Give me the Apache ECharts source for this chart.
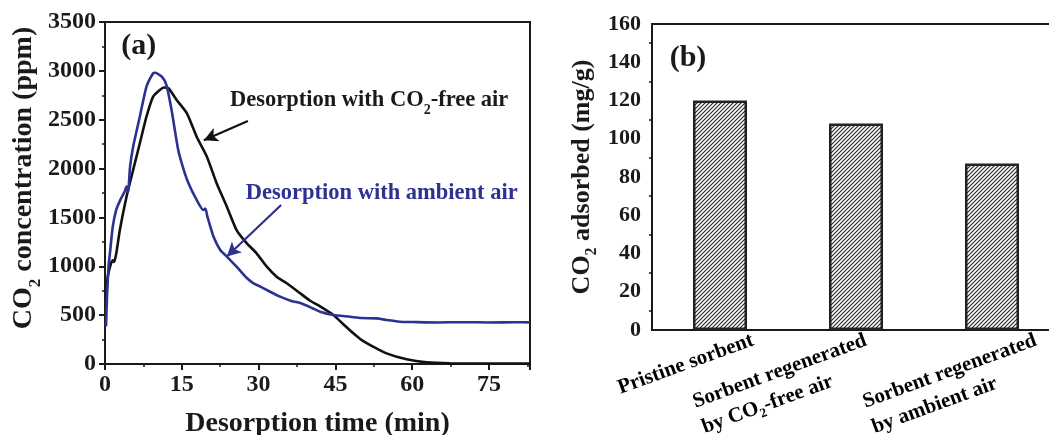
<!DOCTYPE html>
<html>
<head>
<meta charset="utf-8">
<title>CO2 desorption and adsorption capacity</title>
<script src="https://cdn.jsdelivr.net/npm/echarts@6/dist/echarts.min.js"></script>
<style>
  html, body { margin: 0; padding: 0; background: #fff; }
  #chart { width: 1049px; height: 435px; }
</style>
</head>
<body>
<div id="chart"></div>
<script>
// (a) CO2 outlet concentration during desorption
const timeFree = [0.2, 0.5, 1.0, 1.5, 1.8, 2.2, 2.9, 4.2, 5.5, 6.8, 8.1, 9.4, 10.7, 11.5, 12.4, 14.0, 16.0, 17.9, 19.9, 21.8, 23.8, 25.7, 27.7, 29.6, 31.6, 33.5, 35.5, 38.1, 40.0, 42.0, 44.6, 46.5, 48.5, 50.0, 51.8, 55.0, 58.9, 62.8, 67.4, 75.0, 83.0];
const ppmFree  = [650, 880, 1000, 1060, 1045, 1130, 1371, 1712, 1986, 2259, 2531, 2736, 2804, 2830, 2822, 2702, 2566, 2326, 2122, 1850, 1610, 1371, 1235, 1133, 996, 894, 826, 724, 650, 590, 502, 410, 314, 250, 194, 109, 48, 17, 7, 5, 5];

const timeAmbient = [0.2, 0.4, 0.7, 1.0, 1.5, 2.2, 3.0, 3.8, 4.2, 4.5, 4.9, 5.5, 6.8, 8.1, 9.4, 9.8, 11.1, 12.0, 13.0, 14.3, 15.3, 16.3, 17.9, 19.2, 19.6, 20.0, 21.2, 22.5, 23.6, 25.7, 27.7, 29.0, 30.3, 31.6, 34.2, 36.4, 38.4, 40.5, 42.0, 44.6, 47.9, 50.0, 53.1, 55.0, 57.6, 60.0, 65.0, 70.0, 75.0, 80.0, 83.0];
const ppmAmbient  = [383, 700, 1000, 1150, 1400, 1580, 1680, 1760, 1815, 1760, 2019, 2224, 2531, 2838, 2975, 2981, 2940, 2855, 2600, 2190, 2000, 1850, 1679, 1576, 1590, 1508, 1303, 1167, 1110, 996, 880, 826, 793, 757, 689, 645, 620, 571, 535, 502, 484, 470, 467, 450, 433, 430, 425, 428, 425, 427, 426];

// (b) CO2 uptake of the sorbent
const sorbents = ['Pristine sorbent', 'Sorbent regenerated by CO2-free air', 'Sorbent regenerated by ambient air'];
const sorbentLabels = [
  '{t|Pristine sorbent}',
  '{t|Sorbent regenerated}\n{t|by CO}{s|2}{t|-free air}',
  '{t|Sorbent regenerated}\n{t|by ambient air}'
];
const adsorbed = [120, 108, 87];

const FONT = '"Liberation Serif", "Times New Roman", serif';
const INK = '#1a1a1a';
const BLUE = '#2d3192';

const zip = (xs, ys) => xs.map((x, i) => [x, ys[i]]);

// diagonal hatch fill for the bars
function hatch() {
  const c = document.createElement('canvas');
  c.width = 4; c.height = 4;
  const g = c.getContext('2d');
  g.fillStyle = '#fff';
  g.fillRect(0, 0, 4, 4);
  g.strokeStyle = '#2a2a2a';
  g.lineWidth = 1.2;
  g.beginPath();
  g.moveTo(0, 4); g.lineTo(4, 0);
  g.moveTo(-1, 1); g.lineTo(1, -1);
  g.moveTo(3, 5); g.lineTo(5, 3);
  g.stroke();
  return c;
}

const subRich = (size) => ({
  t: { fontFamily: FONT, fontWeight: 'bold', fontSize: size, color: INK, verticalAlign: 'bottom', padding: [0, 0, Math.round(size * 0.2), 0] },
  s: { fontFamily: FONT, fontWeight: 'bold', fontSize: Math.round(size * 0.62), color: INK, verticalAlign: 'bottom' }
});

const axisLineStyle = { lineStyle: { color: INK, width: 2 } };
const tickLabel = (size, margin) => ({
  color: INK, fontFamily: FONT, fontWeight: 'bold', fontSize: size, margin,
  formatter: v => String(v)
});

const option = {
  animation: false,
  backgroundColor: '#fff',
  grid: [
    { left: 105, top: 22, width: 425, height: 342, outerBoundsMode: 'none', containLabel: false,
      show: true, borderColor: INK, borderWidth: 2, backgroundColor: 'transparent' },
    { left: 652, top: 24, width: 408, height: 306, outerBoundsMode: 'none', containLabel: false,
      show: true, borderColor: INK, borderWidth: 2, backgroundColor: 'transparent' }
  ],
  xAxis: [
    {
      type: 'value', gridIndex: 0, min: 0, max: 83, interval: 15,
      name: 'Desorption time (min)', nameLocation: 'middle', nameGap: 46,
      nameTextStyle: { color: INK, fontFamily: FONT, fontWeight: 'bold', fontSize: 28 },
      axisLine: axisLineStyle,
      axisTick: { length: 6, lineStyle: { color: INK, width: 2 } },
      minorTick: { show: true, splitNumber: 2, length: 3, lineStyle: { color: INK, width: 1.5 } },
      axisLabel: Object.assign(tickLabel(24, 9), { showMaxLabel: false }),
      splitLine: { show: false }
    },
    {
      type: 'category', gridIndex: 1, data: sorbents,
      axisLine: axisLineStyle,
      axisTick: { alignWithLabel: true, length: 6, lineStyle: { color: INK, width: 2 } },
      axisLabel: { show: false },
      splitLine: { show: false }
    }
  ],
  yAxis: [
    {
      type: 'value', gridIndex: 0, min: 0, max: 3500, interval: 500,
      name: '{t|CO}{s|2}{t| concentration (ppm)}', nameLocation: 'middle', nameRotate: 90, nameGap: 58,
      nameTextStyle: { rich: subRich(28), padding: [0, 0, 0, 30] },
      axisLine: axisLineStyle,
      axisTick: { length: 6, lineStyle: { color: INK, width: 2 } },
      minorTick: { show: true, splitNumber: 2, length: 3, lineStyle: { color: INK, width: 1.5 } },
      axisLabel: tickLabel(24, 9),
      splitLine: { show: false }
    },
    {
      type: 'value', gridIndex: 1, min: 0, max: 160, interval: 20,
      name: '{t|CO}{s|2}{t| adsorbed (mg/g)}', nameLocation: 'middle', nameRotate: 90, nameGap: 52,
      nameTextStyle: { rich: subRich(26) },
      axisLine: axisLineStyle,
      axisTick: { length: 6, lineStyle: { color: INK, width: 2 } },
      minorTick: { show: true, splitNumber: 2, length: 3, lineStyle: { color: INK, width: 1.5 } },
      axisLabel: tickLabel(22, 11),
      splitLine: { show: false }
    }
  ],
  series: [
    {
      name: 'Desorption with CO2-free air', type: 'line', xAxisIndex: 0, yAxisIndex: 0,
      data: zip(timeFree, ppmFree), showSymbol: false, smooth: 0.2,
      lineStyle: { color: '#111', width: 2.6 }, itemStyle: { color: '#111' }, z: 3,
      markLine: {
        silent: true, symbol: ['none', 'arrow'], symbolSize: [11, 14],
        lineStyle: { color: '#111', width: 2.2, type: 'solid' }, label: { show: false },
        data: [[{ coord: [27.9, 2487] }, { coord: [19.3, 2290] }]]
      }
    },
    {
      name: 'Desorption with ambient air', type: 'line', xAxisIndex: 0, yAxisIndex: 0,
      data: zip(timeAmbient, ppmAmbient), showSymbol: false, smooth: 0.2,
      lineStyle: { color: BLUE, width: 2.6 }, itemStyle: { color: BLUE }, z: 4,
      markLine: {
        silent: true, symbol: ['none', 'arrow'], symbolSize: [11, 14],
        lineStyle: { color: BLUE, width: 2.2, type: 'solid' }, label: { show: false },
        data: [[{ coord: [34.4, 1627] }, { coord: [23.8, 1100] }]]
      }
    },
    {
      name: 'CO2 adsorbed', type: 'bar', xAxisIndex: 1, yAxisIndex: 1,
      data: adsorbed, barWidth: 54,
      itemStyle: { color: { image: hatch(), repeat: 'repeat' }, borderColor: '#222', borderWidth: 2.5 }
    }
  ]
};

const chart = echarts.init(document.getElementById('chart'), null, { renderer: 'canvas' });
chart.setOption(option);

// annotations anchored in data space of panel (a)
const notes = [
  { text: '(a)', at: [6.6, 3255], color: INK, size: 30, align: 'center' },
  { text: '{t|Desorption with CO}{s|2}{t|-free air}', at: [24.4, 2671], color: INK, size: 22.5, align: 'left' },
  { text: 'Desorption with ambient air', at: [27.5, 1750], color: BLUE, size: 22.5, align: 'left' }
];

const graphics = notes.map(n => {
  const p = chart.convertToPixel({ gridIndex: 0 }, n.at);
  const rich = subRich(n.size);
  rich.t.color = n.color; rich.s.color = n.color;
  return {
    type: 'text', x: p[0], y: p[1], z: 10,
    style: {
      text: n.text, rich, fill: n.color,
      font: 'bold ' + n.size + 'px ' + FONT,
      align: n.align, verticalAlign: 'middle'
    }
  };
});

// panel (b) label
const bAt = [chart.convertToPixel({ xAxisIndex: 1 }, sorbents[0]) - 32, chart.convertToPixel({ yAxisIndex: 1 }, 142)];
graphics.push({
  type: 'text', x: bAt[0], y: bAt[1], z: 10,
  style: { text: '(b)', fill: INK, font: 'bold 30px ' + FONT, align: 'center', verticalAlign: 'middle' }
});

// slanted category labels under the bars
const labelShift = [[-106, 46], [-167, 60], [-133, 60]];
const axisY = chart.convertToPixel({ yAxisIndex: 1 }, 0);
sorbents.forEach((cat, i) => {
  const x = chart.convertToPixel({ xAxisIndex: 1 }, cat);
  const rich = {
    t: { fontFamily: FONT, fontWeight: 'bold', fontSize: 21, color: INK, lineHeight: 27, verticalAlign: 'bottom', padding: [0, 0, 3, 0] },
    s: { fontFamily: FONT, fontWeight: 'bold', fontSize: 13, color: INK, lineHeight: 27, verticalAlign: 'bottom' }
  };
  graphics.push({
    type: 'text', x: x + labelShift[i][0], y: axisY + labelShift[i][1],
    rotation: 20 * Math.PI / 180, z: 10,
    style: { text: sorbentLabels[i], rich, align: 'left', verticalAlign: 'top' }
  });
});

chart.setOption({ graphic: graphics });
</script>
</body>
</html>
